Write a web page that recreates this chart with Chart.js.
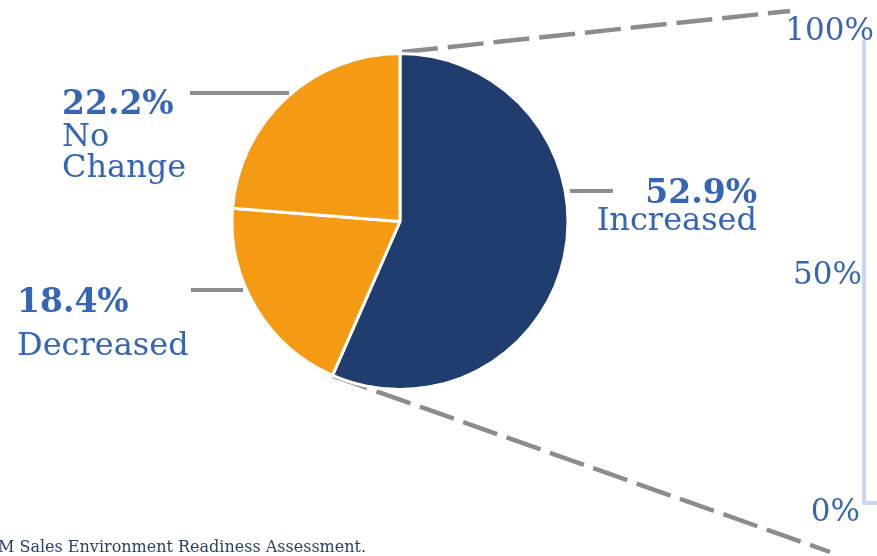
<!DOCTYPE html>
<html>
<head>
<meta charset="utf-8">
<style>
  html, body { margin: 0; padding: 0; background: #ffffff; }
  #wrap { position: relative; width: 877px; height: 556px; overflow: hidden; }
  canvas { display: block; }
</style>
<script src="https://cdn.jsdelivr.net/npm/chart.js@4/dist/chart.umd.min.js"></script>
</head>
<body>
<div id="wrap"><canvas id="pie" width="877" height="556"></canvas></div>
<script>
// Share of respondents by change in sales environment
const categories = ['Increased', 'Decreased', 'No Change'];
const shares = [52.9, 18.4, 22.2];
const sliceColors = ['#1f3e6f', '#f59b13', '#f59b13'];
const barTicks = ['100%', '50%', '0%'];
const sourceNote = 'M Sales Environment Readiness Assessment.';

const TEXT_BLUE = '#3565b5';
const GREY = '#8c8c8c';
const SERIF = '"DejaVu Serif", "Liberation Serif", serif';

// Slice callouts: value baseline, name baselines, text anchor and leader segment
const callouts = [
  { idx: 0, x: 757, y: 203, align: 'right', lines: ['Increased'], gaps: [27], leader: [570, 191, 613, 191] },
  { idx: 1, x: 17, y: 312, align: 'left', lines: ['Decreased'], gaps: [43], leader: [191, 290, 243, 290] },
  { idx: 2, x: 62, y: 114, align: 'left', lines: ['No', 'Change'], gaps: [32, 31], leader: [190, 93, 289, 93] }
];

const fmt = v => v.toFixed(1) + '%';

const overlay = {
  id: 'overlay',
  beforeDatasetsDraw(chart) {
    const ctx = chart.ctx;
    const arc = chart.getDatasetMeta(0).data[0];
    const p = arc.getProps(['x', 'y', 'startAngle', 'endAngle', 'outerRadius'], true);
    const r = p.outerRadius - 1.5;
    const ax = p.x + r * Math.cos(p.startAngle), ay = p.y + r * Math.sin(p.startAngle);
    const bx = p.x + r * Math.cos(p.endAngle), by = p.y + r * Math.sin(p.endAngle);
    ctx.save();
    ctx.strokeStyle = GREY;
    ctx.lineWidth = 4.5;
    ctx.setLineDash([36, 10]);
    ctx.beginPath();
    ctx.moveTo(ax + 2, ay - 3);
    ctx.lineTo(790, 11);
    ctx.stroke();
    ctx.beginPath();
    ctx.moveTo(bx, by + 2);
    ctx.lineTo(830, 552);
    ctx.stroke();
    ctx.restore();
  },
  afterDatasetsDraw(chart) {
    const ctx = chart.ctx;
    ctx.save();

    // leader segments
    ctx.strokeStyle = GREY;
    ctx.lineWidth = 4;
    callouts.forEach(c => {
      ctx.beginPath();
      ctx.moveTo(c.leader[0], c.leader[1]);
      ctx.lineTo(c.leader[2], c.leader[3]);
      ctx.stroke();
    });

    // callout text
    ctx.fillStyle = TEXT_BLUE;
    ctx.textBaseline = 'alphabetic';
    callouts.forEach(c => {
      ctx.textAlign = c.align;
      ctx.font = 'bold 33px ' + SERIF;
      ctx.fillText(fmt(shares[c.idx]), c.x, c.y);
      ctx.font = '32px ' + SERIF;
      let y = c.y;
      c.lines.forEach((t, i) => { y += c.gaps[i]; ctx.fillText(t, c.x, y); });
    });

    // stacked-bar scale on the right
    ctx.strokeStyle = '#c8d8f1';
    ctx.lineWidth = 4;
    ctx.beginPath();
    ctx.moveTo(864, 40);
    ctx.lineTo(864, 503);
    ctx.lineTo(880, 503);
    ctx.stroke();

    ctx.fillStyle = TEXT_BLUE;
    ctx.textAlign = 'right';
    ctx.font = '31px ' + SERIF;
    ctx.fillText(barTicks[0], 874, 40);
    ctx.fillText(barTicks[1], 862, 284);
    ctx.fillText(barTicks[2], 860, 521);

    // source note
    ctx.fillStyle = '#2b3f6b';
    ctx.textAlign = 'left';
    ctx.font = '16px ' + SERIF;
    ctx.fillText(sourceNote, -2, 552);
    ctx.restore();
  }
};

new Chart(document.getElementById('pie'), {
  type: 'pie',
  data: {
    labels: categories,
    datasets: [{
      data: shares,
      backgroundColor: sliceColors,
      borderColor: '#ffffff',
      borderWidth: 3
    }]
  },
  options: {
    responsive: false,
    animation: false,
    devicePixelRatio: 1,
    layout: { padding: { left: 230, right: 307, top: 52, bottom: 165 } },
    plugins: {
      legend: { display: false },
      tooltip: { enabled: false },
      title: { display: false }
    }
  },
  plugins: [overlay]
});
</script>
</body>
</html>
